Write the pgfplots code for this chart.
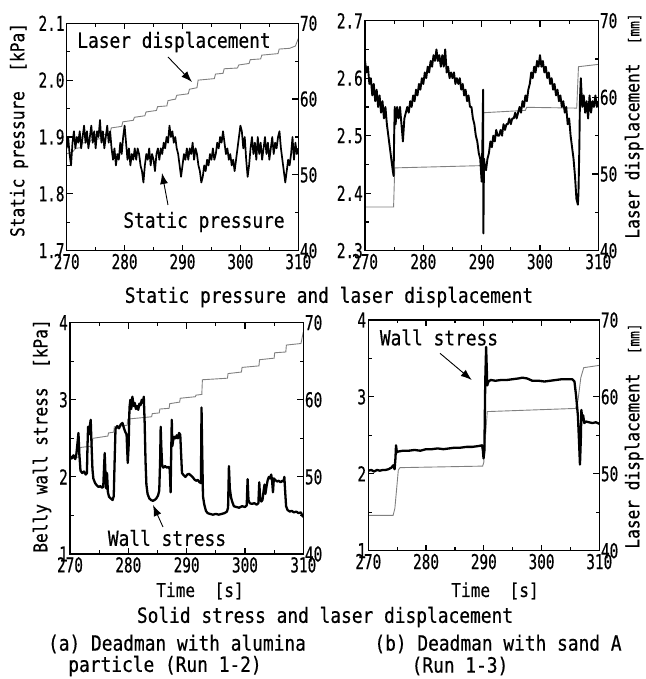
\documentclass[border=0pt]{standalone}
\usepackage{fontspec}
\setmainfont{DejaVu Sans Mono}[FakeStretch=0.85, FakeBold=0.5]
\newfontfamily\tickfont{DejaVu Sans Mono}[FakeStretch=0.7, FakeBold=0.5]
\usepackage{pgfplots}
\pgfplotsset{compat=1.18}
\usetikzlibrary{arrows.meta}
\newcommand\fT{\fontsize{21}{23}\selectfont}
\newcommand\fL{\fontsize{19}{21}\selectfont}
\newcommand\fK{\tickfont\fontsize{20.5}{22}\selectfont}
\pgfplotsset{
  panel/.style={scale only axis, xmin=270, xmax=310, anchor=south west,
    tick align=inside, axis line style={line width=1.4pt, -},
    every tick/.style={line width=1.2pt, black},
    major tick length=6pt, minor tick length=3.5pt,
    tick label style={font=\fK}, /pgf/number format/assume math mode=true},
  leftax/.style={panel, xtick={270,280,290,300,310}, minor xtick={275,285,295,305},
    xticklabels={270,280,290,300,310}, xticklabel style={inner sep=3pt},
    xtick pos=both, ytick pos=left, yticklabel style={inner sep=2pt}},
  rightax/.style={panel, axis x line=none, axis y line*=right, ymin=40, ymax=70,
    ytick={40,50,60,70}, minor ytick={45,55,65}, yticklabels={40,50,60,70},
    yticklabel style={inner sep=1.5pt}},
  blk/.style={black, line width=1.7pt, line join=round},
  gry/.style={black!50, line width=0.9pt},
}
\begin{document}
\begin{tikzpicture}[x=1pt,y=1pt]
\useasboundingbox (0,0) rectangle (645,679);

% ---------------- Top left ----------------
\begin{axis}[rightax, at={(66.7pt,428.3pt)}, width=231.6pt, height=227.4pt]
\addplot[gry] coordinates {(270,52.8) (271,53.0) (271.5,53.5) (272.5,53.6) (272.6,54.2) (274,54.3) (274.2,54.6) (276,54.8) (276.2,55.3) (277.5,55.5) (277.7,56.2) (279.5,56.4) (279.7,57.0) (281.5,57.2) (281.7,57.6) (283.5,57.8) (283.7,58.3) (285.5,58.5) (285.7,59.0) (287.3,59.1) (287.5,59.8) (288.8,60.0) (289,60.5) (291,60.7) (291.2,61.3) (292.5,61.5) (292.7,62.5) (295.5,62.7) (295.7,63.3) (297,63.4) (297.2,64.0) (299.5,64.1) (299.7,64.5) (301.5,64.7) (301.7,65.2) (303.5,65.3) (303.7,65.8) (306.5,66.0) (306.7,66.6) (308.5,66.7) (309.5,67.0) (310,68.0)};
\end{axis}
\begin{axis}[leftax, at={(66.7pt,428.3pt)}, width=231.6pt, height=227.4pt,
  ymin=1.7, ymax=2.1, ytick={1.7,1.8,1.9,2.0,2.1}, minor ytick={1.75,1.85,1.95,2.05},
  yticklabels={1.7,1.8,1.9,2.0,2.1}]
\addplot[blk] table {
270.00 1.88
270.25 1.90
270.50 1.87
270.75 1.85
271.00 1.89
271.25 1.91
271.50 1.88
271.75 1.90
272.00 1.89
272.25 1.91
272.50 1.88
272.75 1.90
273.00 1.92
273.25 1.89
273.50 1.91
273.75 1.88
274.00 1.90
274.25 1.92
274.50 1.89
274.75 1.91
275.00 1.88
275.25 1.91
275.50 1.90
275.75 1.93
276.00 1.89
276.25 1.91
276.50 1.88
276.75 1.90
277.00 1.92
277.25 1.89
277.50 1.91
277.75 1.88
278.00 1.86
278.25 1.88
278.50 1.85
278.75 1.87
279.00 1.86
279.25 1.89
279.50 1.87
279.75 1.90
280.00 1.92
280.25 1.89
280.50 1.86
280.75 1.88
281.00 1.85
281.25 1.87
281.50 1.86
281.75 1.88
282.00 1.86
282.25 1.88
282.50 1.87
282.75 1.85
283.00 1.84
283.25 1.82
283.50 1.85
283.75 1.87
284.00 1.86
284.25 1.88
284.50 1.85
284.75 1.87
285.00 1.86
285.25 1.84
285.50 1.87
285.75 1.88
286.00 1.86
286.25 1.88
286.50 1.87
286.75 1.89
287.00 1.88
287.25 1.90
287.50 1.89
287.75 1.92
288.00 1.90
288.25 1.91
288.50 1.89
288.75 1.90
289.00 1.88
289.25 1.87
289.50 1.85
289.75 1.83
290.00 1.85
290.25 1.87
290.50 1.86
290.75 1.88
291.00 1.86
291.25 1.88
291.50 1.87
291.75 1.89
292.00 1.86
292.25 1.88
292.50 1.87
292.75 1.85
293.00 1.84
293.25 1.82
293.50 1.83
293.75 1.85
294.00 1.84
294.25 1.86
294.50 1.85
294.75 1.87
295.00 1.86
295.25 1.88
295.50 1.86
295.75 1.87
296.00 1.89
296.25 1.88
296.50 1.90
296.75 1.89
297.00 1.91
297.25 1.89
297.50 1.87
297.75 1.88
298.00 1.86
298.25 1.87
298.50 1.85
298.75 1.86
299.00 1.84
299.25 1.86
299.50 1.88
299.75 1.90
300.00 1.92
300.25 1.91
300.50 1.88
300.75 1.90
301.00 1.86
301.25 1.83
301.50 1.85
301.75 1.88
302.00 1.90
302.25 1.87
302.50 1.89
302.75 1.86
303.00 1.90
303.25 1.87
303.50 1.89
303.75 1.86
304.00 1.88
304.25 1.90
304.50 1.87
304.75 1.89
305.00 1.86
305.25 1.88
305.50 1.90
305.75 1.87
306.00 1.89
306.25 1.88
306.50 1.90
306.75 1.91
307.00 1.88
307.25 1.86
307.50 1.84
307.75 1.82
308.00 1.84
308.25 1.86
308.50 1.85
308.75 1.87
309.00 1.90
309.25 1.86
309.50 1.89
309.75 1.87
310.00 1.88
};
\end{axis}

% ---------------- Top right ----------------
\begin{axis}[rightax, at={(365pt,428.3pt)}, width=233.3pt, height=230pt]
\addplot[gry] coordinates {(270,45.7) (274.9,45.7) (275.1,50.8) (290.2,51.1) (290.35,58.0) (297.5,58.3) (297.7,58.7) (306.3,58.6) (306.6,64.0) (310,64.3)};
\end{axis}
\begin{axis}[leftax, at={(365pt,428.3pt)}, width=233.3pt, height=230pt,
  ymin=2.3, ymax=2.7, ytick={2.3,2.4,2.5,2.6,2.7}, minor ytick={2.35,2.45,2.55,2.65},
  yticklabels={2.3,2.4,2.5,2.6,2.7}]
\addplot[blk, line width=1.9pt] table {
270.00 2.63
270.25 2.61
270.50 2.62
270.75 2.59
271.00 2.60
271.25 2.57
271.50 2.59
271.75 2.56
272.00 2.58
272.25 2.55
272.50 2.57
272.75 2.54
273.00 2.56
273.25 2.53
273.50 2.55
273.75 2.52
274.00 2.50
274.25 2.48
274.50 2.46
274.75 2.44
274.90 2.43
275.00 2.50
275.10 2.55
275.25 2.52
275.50 2.55
275.75 2.53
276.00 2.55
276.25 2.52
276.50 2.49
276.75 2.53
277.00 2.54
277.25 2.55
277.50 2.54
277.75 2.56
278.00 2.55
278.25 2.57
278.50 2.56
278.75 2.58
279.00 2.57
279.25 2.59
279.50 2.58
279.75 2.60
280.00 2.59
280.25 2.61
280.50 2.60
280.75 2.62
281.00 2.61
281.25 2.63
281.50 2.62
281.75 2.64
282.00 2.63
282.25 2.65
282.50 2.63
282.75 2.64
283.00 2.62
283.25 2.64
283.50 2.62
283.75 2.65
284.00 2.61
284.25 2.62
284.50 2.60
284.75 2.61
285.00 2.60
285.25 2.61
285.50 2.59
285.75 2.60
286.00 2.59
286.25 2.60
286.50 2.58
286.75 2.59
287.00 2.57
287.25 2.58
287.50 2.56
287.75 2.57
288.00 2.55
288.25 2.55
288.50 2.53
288.75 2.52
289.00 2.50
289.25 2.49
289.50 2.47
289.75 2.46
290.00 2.42
290.15 2.50
290.25 2.58
290.30 2.33
290.40 2.46
290.50 2.45
290.75 2.44
291.00 2.46
291.25 2.47
291.50 2.49
291.75 2.48
292.00 2.50
292.25 2.49
292.50 2.51
292.75 2.50
293.00 2.50
293.25 2.51
293.50 2.50
293.75 2.52
294.00 2.51
294.25 2.52
294.50 2.52
294.75 2.53
295.00 2.52
295.25 2.53
295.50 2.53
295.75 2.54
296.00 2.53
296.25 2.54
296.50 2.55
296.75 2.54
297.00 2.56
297.25 2.55
297.50 2.57
297.75 2.56
298.00 2.58
298.25 2.59
298.50 2.61
298.75 2.60
299.00 2.62
299.25 2.61
299.50 2.63
299.75 2.62
300.00 2.64
300.25 2.62
300.50 2.63
300.75 2.61
301.00 2.62
301.25 2.60
301.50 2.61
301.75 2.59
302.00 2.60
302.25 2.58
302.50 2.59
302.75 2.57
303.00 2.58
303.25 2.56
303.50 2.57
303.75 2.55
304.00 2.56
304.25 2.54
304.50 2.55
304.75 2.52
305.00 2.53
305.25 2.50
305.50 2.48
305.75 2.46
306.00 2.43
306.25 2.39
306.50 2.38
306.60 2.40
306.75 2.48
306.85 2.56
307.00 2.60
307.25 2.55
307.50 2.57
307.75 2.54
308.00 2.56
308.25 2.53
308.50 2.57
308.75 2.54
309.00 2.56
309.25 2.55
309.50 2.57
309.75 2.55
310.00 2.56
};
\end{axis}

% ---------------- Bottom left ----------------
\begin{axis}[rightax, at={(70pt,125pt)}, width=233.3pt, height=231.3pt]
\addplot[gry] coordinates {(270,52.3) (271.5,52.6) (271.6,53.8) (273.8,54.0) (273.9,55.0) (276.5,55.3) (276.6,55.7) (277.5,55.8) (277.6,56.5) (279.8,56.7) (279.9,57.5) (284.0,57.8) (284.1,58.2) (285.3,58.3) (285.4,58.8) (287,58.9) (287.1,59.5) (288.8,59.7) (288.9,60.2) (291.5,60.4) (291.6,60.6) (292.6,60.7) (292.7,62.6) (297.0,62.8) (297.1,63.4) (299.4,63.6) (299.5,64.2) (302.4,64.4) (302.5,65.2) (305.0,65.4) (305.1,66.1) (307.0,66.2) (307.1,67.1) (309.6,67.3) (310.0,68.8)};
\end{axis}
\begin{axis}[leftax, at={(70pt,125pt)}, width=233.3pt, height=231.3pt,
  ymin=1, ymax=4, ytick={1,2,3,4}, minor ytick={1.5,2.5,3.5}, yticklabels={1,2,3,4}]
\addplot[blk, line width=2.3pt] table {
270.0 2.27
270.3 2.24
270.6 2.28
270.9 2.23
271.1 2.30
271.3 2.45
271.45 2.57
271.6 2.30
271.8 2.08
272.1 2.05
272.4 2.07
272.7 2.03
272.9 2.05
273.0 2.40
273.1 2.65
273.25 2.55
273.4 2.66
273.55 2.74
273.7 2.40
273.85 2.10
274.0 1.98
274.3 1.92
274.6 1.89
274.9 1.87
275.2 1.88
275.5 1.86
275.7 1.87
275.85 2.15
275.95 2.31
276.05 2.10
276.2 1.85
276.35 2.05
276.5 1.80
276.7 1.74
277.0 1.72
277.3 1.70
277.5 1.75
277.65 2.20
277.8 2.62
278.1 2.66
278.4 2.63
278.7 2.68
279.0 2.70
279.3 2.62
279.5 2.58
279.7 2.55
279.9 2.18
280.05 2.40
280.2 2.90
280.35 3.00
280.5 2.88
280.7 3.04
280.9 2.92
281.1 2.96
281.3 2.88
281.5 2.92
281.7 2.87
281.9 2.95
282.1 2.93
282.3 3.00
282.5 2.96
282.65 3.04
282.8 2.70
282.95 2.20
283.1 1.90
283.3 1.78
283.6 1.72
283.9 1.70
284.2 1.69
284.5 1.70
284.8 1.72
285.1 1.76
285.3 1.82
285.45 2.20
285.55 2.65
285.65 2.40
285.8 2.15
286.0 2.12
286.3 2.14
286.6 2.12
286.9 2.13
287.1 2.10
287.25 1.80
287.35 2.30
287.45 2.74
287.55 2.40
287.7 2.48
287.9 2.52
288.1 2.50
288.3 2.54
288.5 2.50
288.7 2.57
288.9 2.55
289.05 2.30
289.2 2.05
289.5 2.02
289.8 2.00
290.1 2.03
290.4 2.04
290.7 2.02
291.0 2.00
291.3 1.97
291.6 1.95
291.9 1.96
292.2 1.93
292.45 1.92
292.55 2.90
292.65 2.40
292.8 1.75
293.0 1.65
293.3 1.56
293.6 1.53
294.0 1.52
294.5 1.51
295.0 1.52
295.5 1.51
296.0 1.52
296.5 1.53
296.9 1.55
297.1 1.60
297.25 2.14
297.4 1.85
297.6 1.74
297.8 1.68
298.1 1.62
298.5 1.61
299.0 1.60
299.5 1.62
300.0 1.61
300.3 1.63
300.45 1.97
300.6 1.70
300.8 1.66
301.2 1.65
301.6 1.66
302.0 1.64
302.3 1.66
302.45 1.93
302.6 1.72
302.8 1.68
303.0 1.70
303.2 1.82
303.35 1.90
303.5 1.78
303.7 1.88
303.9 1.96
304.1 2.00
304.3 1.98
304.5 2.03
304.65 1.95
304.8 1.80
304.95 1.98
305.2 1.96
305.5 1.94
305.8 1.95
306.1 1.93
306.4 1.95
306.6 1.94
306.75 2.00
306.9 1.80
307.05 1.62
307.3 1.57
307.7 1.55
308.0 1.56
308.4 1.54
308.8 1.55
309.2 1.53
309.6 1.54
309.8 1.50
310.0 1.48
};
\end{axis}

% ---------------- Bottom right ----------------
\begin{axis}[rightax, at={(368.3pt,128.3pt)}, width=231pt, height=230.7pt]
\addplot[gry] coordinates {(270,44.6) (274.3,44.6) (274.6,45.5) (274.9,48) (275.2,50.5) (275.5,50.8) (289.8,51.0) (290.0,51.5) (290.3,55) (290.6,58.1) (291,58.1) (305.9,58.5) (306.3,59.5) (306.8,62.5) (307.3,63.8) (310,64.1)};
\end{axis}
\begin{axis}[leftax, at={(368.3pt,128.3pt)}, width=231pt, height=230.7pt,
  ymin=1, ymax=4, ytick={1,2,3,4}, minor ytick={1.5,2.5,3.5}, yticklabels={1,2,3,4}]
\addplot[blk, line width=2.3pt] table {
270.0 2.04
270.5 2.05
271.0 2.03
271.5 2.05
272.0 2.04
272.5 2.05
273.0 2.05
273.5 2.06
274.0 2.08
274.3 2.11
274.55 2.06
274.7 2.20
274.8 2.37
274.95 2.28
275.2 2.29
276.0 2.30
277.0 2.30
278.0 2.31
279.0 2.30
280.0 2.32
281.0 2.32
282.0 2.33
283.0 2.32
284.0 2.33
285.0 2.34
286.0 2.34
287.0 2.35
288.0 2.35
289.0 2.36
289.7 2.37
289.85 2.30
289.95 2.20
290.1 2.30
290.25 3.20
290.4 3.65
290.5 3.40
290.6 3.15
290.8 3.20
291.2 3.22
292.0 3.21
293.0 3.22
294.0 3.22
295.0 3.23
296.0 3.24
296.7 3.25
297.5 3.24
298.4 3.21
299.5 3.21
300.5 3.20
301.5 3.21
302.5 3.22
303.5 3.23
304.5 3.23
305.3 3.23
305.7 3.20
306.0 3.00
306.3 2.75
306.5 2.40
306.65 2.12
306.8 2.45
306.9 2.83
307.05 2.70
307.2 2.76
307.4 2.66
307.7 2.68
308.2 2.67
308.8 2.66
309.4 2.67
310.0 2.65
};
\end{axis}

% ---------------- Texts ----------------
\node[rotate=90, font=\fL, inner sep=0pt] at (19,549) {Static pressure~~[kPa]};
\node[rotate=90, font=\fL, inner sep=0pt] at (42,243) {Belly wall stress~~[kPa]};
\node[rotate=90, font=\fL, inner sep=0pt] at (634,553) {Laser displacement~~{\fontsize{15}{15}\selectfont[mm]}};
\node[rotate=90, font=\fL, inner sep=0pt] at (634,243) {Laser displacement~~{\fontsize{15}{15}\selectfont[mm]}};

\node[font=\fT] at (329,382) {Static pressure and laser displacement};
\node[font=\fL] at (200,88) {Time~~[s]};
\node[font=\fL] at (495,88) {Time~~[s]};
\node[font=\fT] at (325,62) {Solid stress and laser displacement};
\node[font=\fT] at (177,35) {(a) Deadman with alumina};
\node[font=\fT, inner sep=0pt] at (165,13) {particle (Run 1-2)};
\node[font=\fT] at (498,35) {(b) Deadman with sand A};
\node[font=\fT, inner sep=0pt] at (460,13) {(Run 1-3)};

% annotations
\node[font=\fT] at (174,637) {Laser displacement};
\draw[line width=0.9pt, -{Latex[length=11pt,width=8pt]}] (168,622) -- (192,597);
\node[font=\fT] at (204,457) {Static pressure};
\draw[line width=0.9pt, -{Latex[length=11pt,width=8pt]}] (168,474) -- (162,506);
\node[font=\fT] at (167,141) {Wall stress};
\draw[line width=0.9pt, -{Latex[length=11pt,width=8pt]}] (163,152) -- (153,174);
\node[font=\fT] at (439,341.5) {Wall stress};
\draw[line width=0.9pt, -{Latex[length=11pt,width=8pt]}] (440,325.7) -- (471.7,299);
\end{tikzpicture}
\end{document}
